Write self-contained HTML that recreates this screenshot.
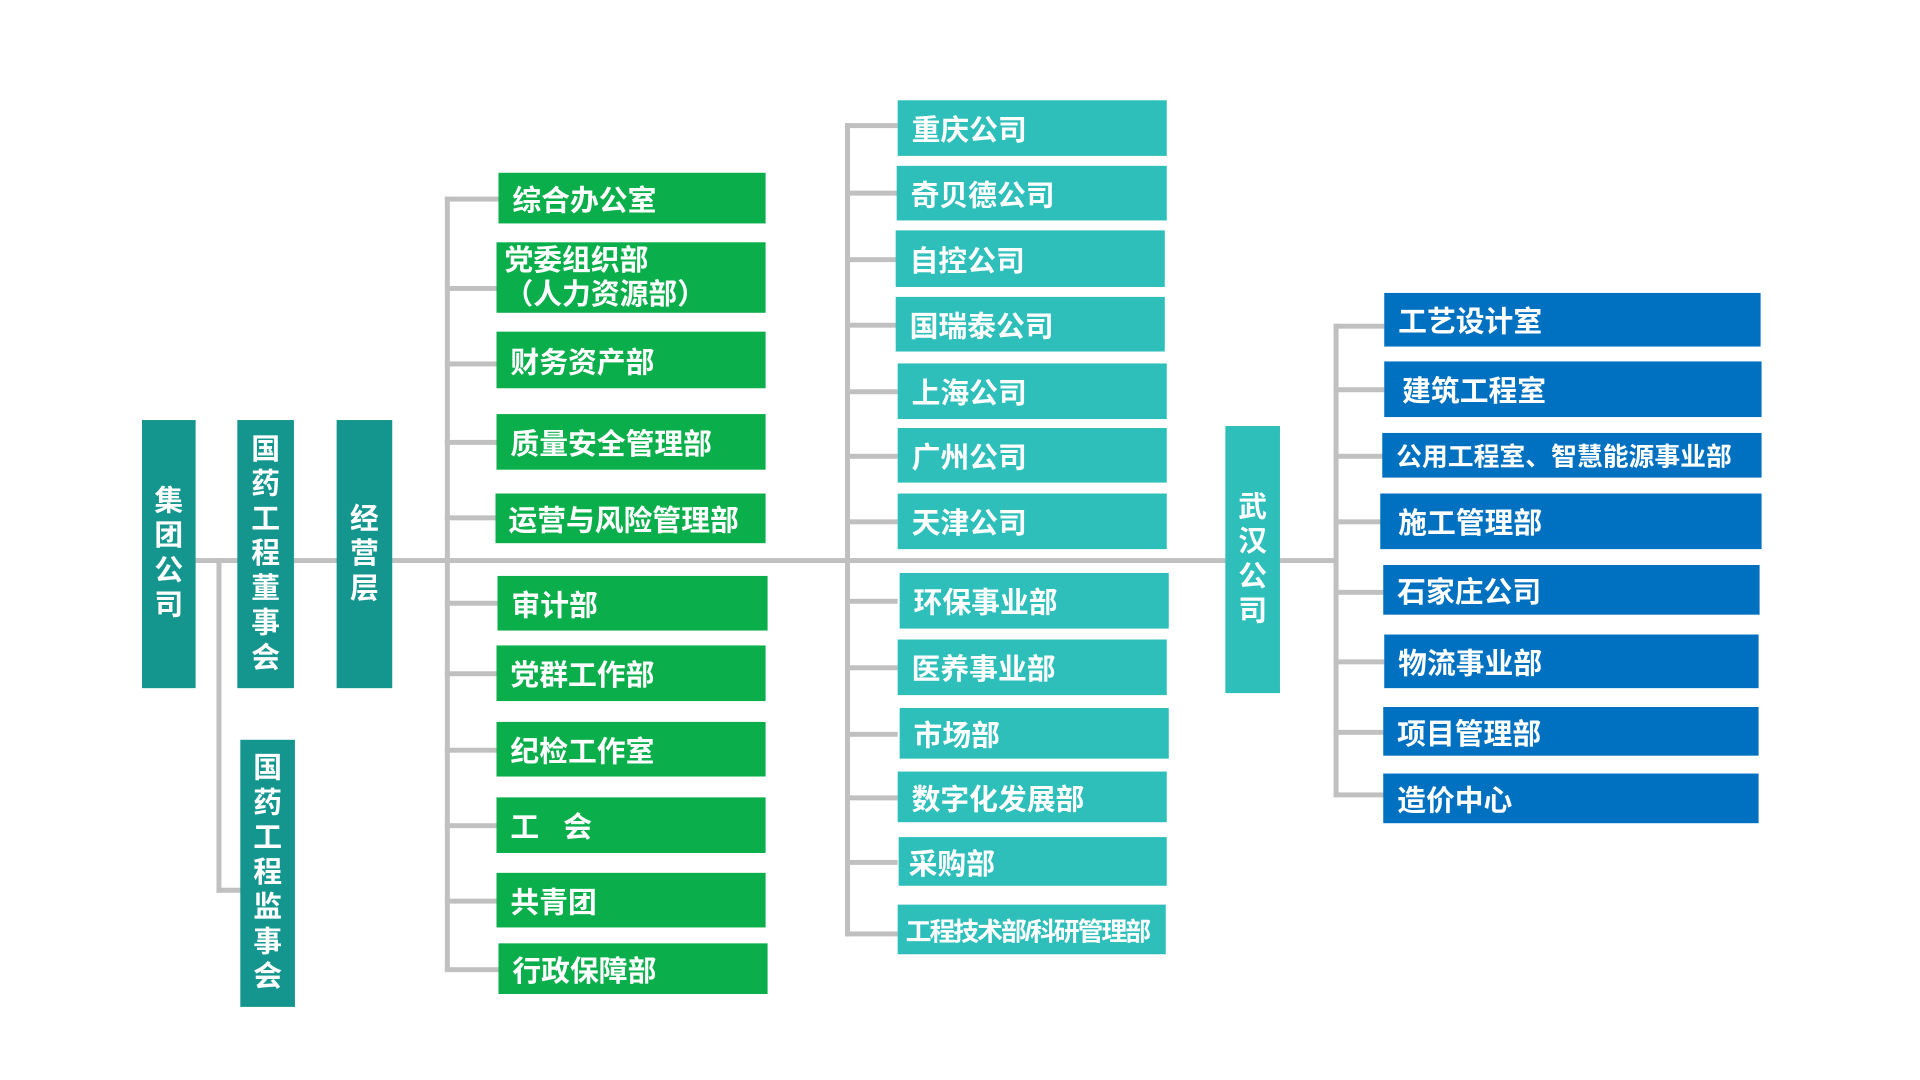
<!DOCTYPE html>
<html><head><meta charset="utf-8"><style>
body{margin:0;width:1920px;height:1080px;background:#fff;position:relative;overflow:hidden;font-family:"Liberation Sans","Noto Sans CJK SC",sans-serif;font-weight:bold;color:#fff}
#w{position:absolute;left:0;top:0;width:1920px;height:1080px;transform:scale(0.993);transform-origin:0 0}
.b{position:absolute;display:flex;align-items:center;padding-left:14px;box-sizing:border-box;font-size:29px;white-space:nowrap}
.g{background:#0aaf4b}.t{background:#2ebfbb}.u{background:#0070c0}
.v{position:absolute;display:flex;align-items:center;justify-content:center;font-size:29px;line-height:35px;text-align:center;background:#14968f}
.l{position:absolute;background:#c0c0c0}
</style></head><body><div id="w">
<div class="l" style="left:197px;top:562px;width:1040px;height:5px"></div>
<div class="l" style="left:1289px;top:562px;width:58px;height:5px"></div>
<div class="l" style="left:218px;top:562px;width:5px;height:337px"></div>
<div class="l" style="left:218px;top:894px;width:26px;height:5px"></div>
<div class="l" style="left:448px;top:198px;width:5px;height:780px"></div>
<div class="l" style="left:851px;top:124px;width:5px;height:819px"></div>
<div class="l" style="left:1343px;top:326px;width:5px;height:476px"></div>
<div class="l" style="left:448px;top:198px;width:54px;height:5px"></div>
<div class="l" style="left:448px;top:288px;width:54px;height:5px"></div>
<div class="l" style="left:448px;top:364px;width:54px;height:5px"></div>
<div class="l" style="left:448px;top:443px;width:54px;height:5px"></div>
<div class="l" style="left:448px;top:519px;width:54px;height:5px"></div>
<div class="l" style="left:448px;top:605px;width:54px;height:5px"></div>
<div class="l" style="left:448px;top:676px;width:54px;height:5px"></div>
<div class="l" style="left:448px;top:753px;width:54px;height:5px"></div>
<div class="l" style="left:448px;top:829px;width:54px;height:5px"></div>
<div class="l" style="left:448px;top:905px;width:54px;height:5px"></div>
<div class="l" style="left:448px;top:974px;width:54px;height:5px"></div>
<div class="l" style="left:851px;top:124px;width:53px;height:5px"></div>
<div class="l" style="left:851px;top:192px;width:53px;height:5px"></div>
<div class="l" style="left:851px;top:259px;width:53px;height:5px"></div>
<div class="l" style="left:851px;top:325px;width:53px;height:5px"></div>
<div class="l" style="left:851px;top:392px;width:53px;height:5px"></div>
<div class="l" style="left:851px;top:457px;width:53px;height:5px"></div>
<div class="l" style="left:851px;top:523px;width:53px;height:5px"></div>
<div class="l" style="left:851px;top:603px;width:53px;height:5px"></div>
<div class="l" style="left:851px;top:670px;width:53px;height:5px"></div>
<div class="l" style="left:851px;top:737px;width:53px;height:5px"></div>
<div class="l" style="left:851px;top:801px;width:53px;height:5px"></div>
<div class="l" style="left:851px;top:866px;width:53px;height:5px"></div>
<div class="l" style="left:851px;top:938px;width:53px;height:5px"></div>
<div class="l" style="left:1343px;top:326px;width:51px;height:5px"></div>
<div class="l" style="left:1343px;top:390px;width:51px;height:5px"></div>
<div class="l" style="left:1343px;top:457px;width:51px;height:5px"></div>
<div class="l" style="left:1343px;top:523px;width:51px;height:5px"></div>
<div class="l" style="left:1343px;top:594px;width:51px;height:5px"></div>
<div class="l" style="left:1343px;top:664px;width:51px;height:5px"></div>
<div class="l" style="left:1343px;top:735px;width:51px;height:5px"></div>
<div class="l" style="left:1343px;top:798px;width:51px;height:5px"></div>

<div class="v" style="left:143px;top:423px;width:54px;height:270px">集<br>团<br>公<br>司</div>
<div class="v" style="left:239px;top:423px;width:57px;height:270px">国<br>药<br>工<br>程<br>董<br>事<br>会</div>
<div class="v" style="left:339px;top:423px;width:56px;height:270px">经<br>营<br>层</div>
<div class="v" style="left:242px;top:745px;width:55px;height:269px">国<br>药<br>工<br>程<br>监<br>事<br>会</div>
<div class="v" style="left:1234px;top:429px;width:55px;height:269px;background:#2ebfbb">武<br>汉<br>公<br>司</div>

<div class="b g" style="left:502px;top:174px;width:269px;height:51px">综合办公室</div>
<div class="b g" style="left:500px;top:244px;width:271px;height:71px;padding-left:8px;line-height:34px">党委组织部<br>（人力资源部）</div>
<div class="b g" style="left:500px;top:334px;width:271px;height:57px">财务资产部</div>
<div class="b g" style="left:500px;top:417px;width:271px;height:56px">质量安全管理部</div>
<div class="b g" style="left:499px;top:497px;width:272px;height:50px;padding-left:13px">运营与风险管理部</div>
<div class="b g" style="left:501px;top:580px;width:272px;height:55px">审计部</div>
<div class="b g" style="left:500px;top:650px;width:271px;height:56px">党群工作部</div>
<div class="b g" style="left:500px;top:727px;width:271px;height:55px">纪检工作室</div>
<div class="b g" style="left:500px;top:803px;width:271px;height:56px">工&nbsp;&nbsp;&nbsp;会</div>
<div class="b g" style="left:500px;top:879px;width:271px;height:55px">共青团</div>
<div class="b g" style="left:502px;top:950px;width:271px;height:51px">行政保障部</div>

<div class="b t" style="left:904px;top:101px;width:271px;height:56px">重庆公司</div>
<div class="b t" style="left:903px;top:167px;width:272px;height:55px">奇贝德公司</div>
<div class="b t" style="left:902px;top:232px;width:271px;height:57px">自控公司</div>
<div class="b t" style="left:902px;top:299px;width:271px;height:55px">国瑞泰公司</div>
<div class="b t" style="left:904px;top:366px;width:271px;height:56px">上海公司</div>
<div class="b t" style="left:904px;top:431px;width:271px;height:55px">广州公司</div>
<div class="b t" style="left:904px;top:497px;width:271px;height:56px">天津公司</div>
<div class="b t" style="left:906px;top:577px;width:271px;height:56px">环保事业部</div>
<div class="b t" style="left:904px;top:644px;width:271px;height:56px">医养事业部</div>
<div class="b t" style="left:906px;top:713px;width:271px;height:51px">市场部</div>
<div class="b t" style="left:904px;top:777px;width:271px;height:51px">数字化发展部</div>
<div class="b t" style="left:905px;top:843px;width:270px;height:49px;padding-left:10px">采购部</div>
<div class="b t" style="left:904px;top:911px;width:270px;height:50px;padding-left:8px;font-size:26px;letter-spacing:-2px">工程技术部/科研管理部</div>

<div class="b u" style="left:1394px;top:295px;width:379px;height:54px">工艺设计室</div>
<div class="b u" style="left:1394px;top:364px;width:380px;height:56px;padding-left:18px">建筑工程室</div>
<div class="b u" style="left:1392px;top:436px;width:382px;height:45px;font-size:26px">公用工程室、智慧能源事业部</div>
<div class="b u" style="left:1390px;top:497px;width:384px;height:56px;padding-left:18px">施工管理部</div>
<div class="b u" style="left:1393px;top:569px;width:379px;height:50px">石家庄公司</div>
<div class="b u" style="left:1394px;top:639px;width:377px;height:54px">物流事业部</div>
<div class="b u" style="left:1393px;top:712px;width:378px;height:49px">项目管理部</div>
<div class="b u" style="left:1393px;top:779px;width:378px;height:50px">造价中心</div>
</div></body></html>
